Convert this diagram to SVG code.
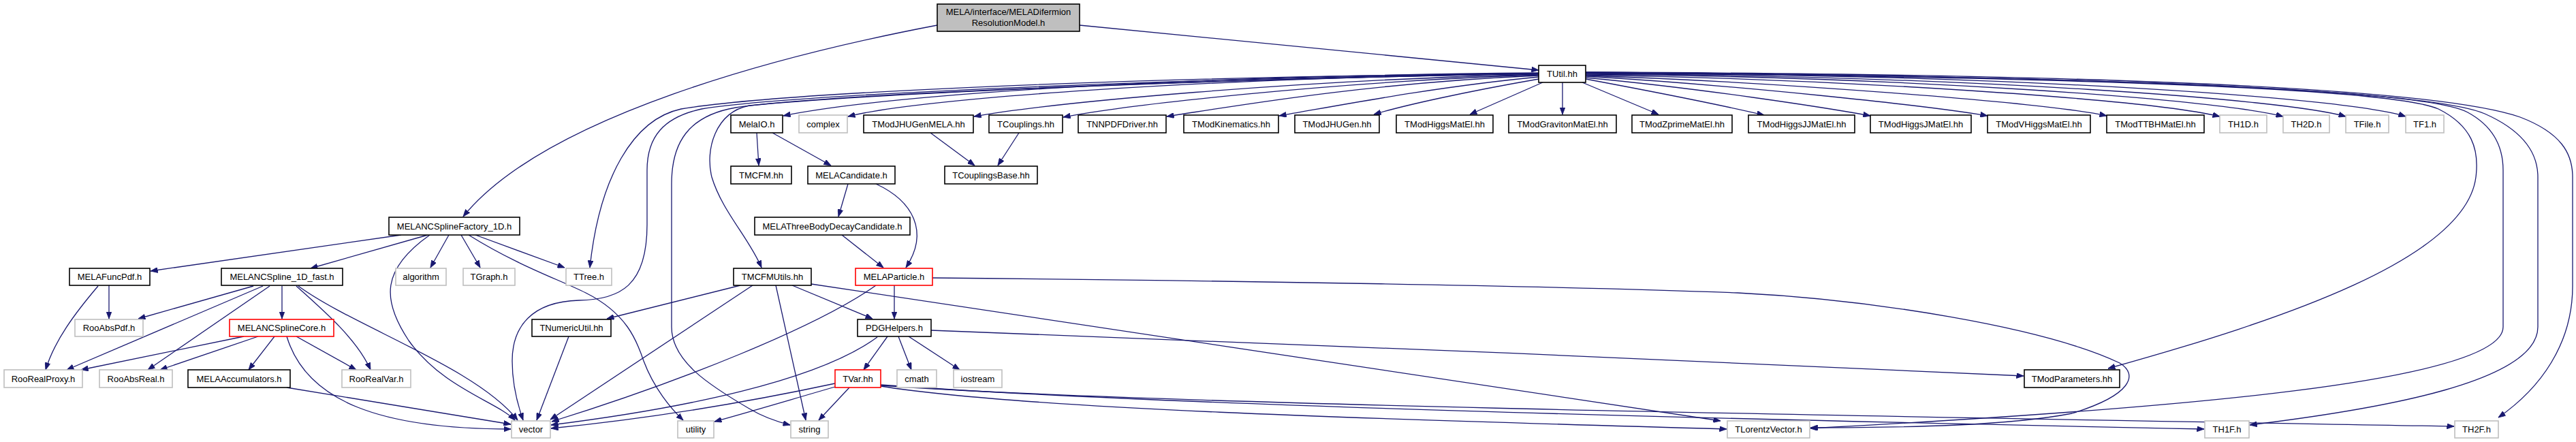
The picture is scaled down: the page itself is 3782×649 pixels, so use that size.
<svg xmlns="http://www.w3.org/2000/svg" width="3782" height="649" viewBox="0 0 3782 649">
<style>
.n rect{fill:#fff;stroke:#000;stroke-width:1.6}
.g rect{fill:#fff;stroke:#bfbfbf;stroke-width:1.6}
.r rect{fill:#fff;stroke:#ff0000;stroke-width:1.6}
.root rect{fill:#bfbfbf;stroke:#000;stroke-width:1.6}
text{font-family:"Liberation Sans",Arial,sans-serif;font-size:13px;fill:#000;text-anchor:middle}
#edges path{fill:none;stroke:#191970;stroke-width:1.3;marker-end:url(#ah)}
</style>
<defs>
<marker id="ah" markerUnits="userSpaceOnUse" markerWidth="11" markerHeight="8" refX="10.5" refY="4" orient="auto">
<path d="M0,0 L10.5,4 L0,8 z" fill="#191970" stroke="#191970" stroke-width="0.8"/>
</marker>
</defs>
<rect width="3782" height="649" fill="#fff"/>
<g id="edges">
<path d="M1376,37 C1150,80 800,170 680,318"/>
<path d="M1585,37 L2259,103"/>
<path d="M2259,107 C1700,112 1300,140 1150,170"/>
<path d="M2259,108 C1750,115 1350,145 1245,171"/>
<path d="M2259,109 C1900,118 1550,150 1430,171"/>
<path d="M2259,110 C1950,120 1650,155 1561,172"/>
<path d="M2259,111 C2000,122 1800,158 1713,171"/>
<path d="M2259,113 C2100,128 1950,158 1878,170"/>
<path d="M2259,116 C2150,135 2060,155 2017,168"/>
<path d="M2265,121 L2158,168"/>
<path d="M2294,121 L2294,168"/>
<path d="M2323,121 L2435,168"/>
<path d="M2328,116 C2430,135 2530,155 2590,169"/>
<path d="M2328,114 C2500,130 2680,158 2746,170"/>
<path d="M2328,112 C2550,125 2830,155 2918,170"/>
<path d="M2328,111 C2600,120 3000,150 3093,170"/>
<path d="M2328,110 C2700,116 3150,145 3259,171"/>
<path d="M2328,109 C2800,113 3250,145 3352,171"/>
<path d="M2328,108 C2900,112 3350,145 3444,171"/>
<path d="M2328,107 C3000,110 3450,145 3532,171"/>
<path d="M2328,106 C2900,108 3550,120 3700,172 C3760,195 3777,225 3777,260 L3777,420 C3777,505 3730,570 3668,613"/>
<path d="M2328,106 C2900,110 3550,125 3648,167 C3700,190 3726,220 3726,260 L3726,480 C3726,560 3500,600 3303,624"/>
<path d="M2328,106 C2900,110 3550,125 3623,165 C3660,185 3675,215 3675,250 L3675,480 C3675,560 3200,600 2658,629"/>
<path d="M2328,107 C2900,112 3500,125 3580,160 C3630,185 3640,220 3635,260 C3620,380 3350,470 3095,541"/>
<path d="M2259,108 C1700,112 1150,135 1000,160 C930,175 880,260 866,393"/>
<path d="M2259,108 C1700,115 1150,140 1030,160 C975,172 950,200 950,250 L950,330 C950,420 910,440 850,441 C780,443 752,480 752,530 C752,570 762,600 768,617"/>
<path d="M2259,108 C1700,118 1200,140 1080,158 C1010,170 986,210 986,270 L986,480 C986,530 1040,565 1100,600 C1120,612 1140,619 1160,624"/>
<path d="M2259,108 C1700,118 1250,140 1100,155 C1050,165 1035,220 1045,260 C1060,310 1100,350 1118,393"/>
<path d="M1111,195 L1114,243"/>
<path d="M1134,195 L1220,243"/>
<path d="M1366,195 L1431,243"/>
<path d="M1496,195 L1465,243"/>
<path d="M1245,270 L1231,318"/>
<path d="M1286,270 C1340,295 1365,340 1330,393"/>
<path d="M1236,345 L1297,393"/>
<path d="M589,345 L221,398"/>
<path d="M628,345 L456,394"/>
<path d="M631,345 C560,395 560,440 600,500 C650,570 730,590 756,617"/>
<path d="M659,345 L632,393"/>
<path d="M677,345 L705,393"/>
<path d="M698,345 L829,393"/>
<path d="M688,345 C760,390 820,410 860,430 C920,460 935,500 945,530 C960,570 985,600 1003,617"/>
<path d="M160,419 L160,468"/>
<path d="M144,420 C110,460 80,500 67,543"/>
<path d="M372,420 L203,468"/>
<path d="M386,420 L98,543"/>
<path d="M396,420 L217,543"/>
<path d="M414,420 L414,468"/>
<path d="M435,420 C480,460 525,500 544,543"/>
<path d="M438,420 C520,480 700,540 760,617"/>
<path d="M358,494 L119,543"/>
<path d="M379,494 L235,543"/>
<path d="M403,494 L365,543"/>
<path d="M421,494 C450,590 560,630 750,630"/>
<path d="M435,494 L523,543"/>
<path d="M421,569 L750,623"/>
<path d="M835,494 L788,617"/>
<path d="M1087,419 L891,468"/>
<path d="M1105,419 L808,616"/>
<path d="M1139,419 L1183,617"/>
<path d="M1163,419 L1281,468"/>
<path d="M1191,417 L2526,618"/>
<path d="M1286,419 C1200,480 1000,560 810,619"/>
<path d="M1313,419 L1313,468"/>
<path d="M1369,408 C1800,412 2300,420 2551,430 C2750,440 3000,480 3112,533 C3140,550 3130,580 3042,607 C2950,625 2800,628 2658,628"/>
<path d="M1303,494 L1268,543"/>
<path d="M1319,494 L1338,543"/>
<path d="M1334,494 L1409,543"/>
<path d="M1288,495 C1200,560 1000,600 809,624"/>
<path d="M1367,485 C1800,500 2500,530 2971,552"/>
<path d="M1226,563 C1100,590 950,615 809,629"/>
<path d="M1226,568 C1150,590 1100,605 1049,619"/>
<path d="M1247,569 L1202,617"/>
<path d="M1293,567 C1500,600 2000,615 2535,630"/>
<path d="M1293,565 C1700,595 2500,615 3236,630"/>
<path d="M1293,566 C1700,595 2800,612 3603,626"/>
</g>
<g id="n_root" class="root"><rect x="1376" y="6" width="209" height="40"/><text x="1480.5" y="22">MELA/interface/MELADifermion</text><text x="1480.5" y="38">ResolutionModel.h</text></g>
<g id="n_TUtil" class="n"><rect x="2259" y="96" width="69" height="25"/><text x="2293.5" y="113">TUtil.hh</text></g>
<g id="n_MelaIO" class="n"><rect x="1073" y="169" width="76" height="26"/><text x="1111" y="186.5">MelaIO.h</text></g>
<g id="n_complex" class="g"><rect x="1173" y="169" width="71" height="26"/><text x="1208.5" y="186.5">complex</text></g>
<g id="n_TModJHUGenMELA" class="n"><rect x="1268" y="169" width="161" height="26"/><text x="1348.5" y="186.5">TModJHUGenMELA.hh</text></g>
<g id="n_TCouplings" class="n"><rect x="1452" y="169" width="108" height="26"/><text x="1506" y="186.5">TCouplings.hh</text></g>
<g id="n_TNNPDFDriver" class="n"><rect x="1583" y="169" width="129" height="26"/><text x="1647.5" y="186.5">TNNPDFDriver.hh</text></g>
<g id="n_TModKinematics" class="n"><rect x="1738" y="169" width="139" height="26"/><text x="1807.5" y="186.5">TModKinematics.hh</text></g>
<g id="n_TModJHUGen" class="n"><rect x="1901" y="169" width="124" height="26"/><text x="1963" y="186.5">TModJHUGen.hh</text></g>
<g id="n_TModHiggsMatEl" class="n"><rect x="2050" y="169" width="142" height="26"/><text x="2121" y="186.5">TModHiggsMatEl.hh</text></g>
<g id="n_TModGravitonMatEl" class="n"><rect x="2215" y="169" width="158" height="26"/><text x="2294" y="186.5">TModGravitonMatEl.hh</text></g>
<g id="n_TModZprimeMatEl" class="n"><rect x="2396" y="169" width="147" height="26"/><text x="2469.5" y="186.5">TModZprimeMatEl.hh</text></g>
<g id="n_TModHiggsJJMatEl" class="n"><rect x="2567" y="169" width="156" height="26"/><text x="2645" y="186.5">TModHiggsJJMatEl.hh</text></g>
<g id="n_TModHiggsJMatEl" class="n"><rect x="2746" y="169" width="148" height="26"/><text x="2820" y="186.5">TModHiggsJMatEl.hh</text></g>
<g id="n_TModVHiggsMatEl" class="n"><rect x="2918" y="169" width="151" height="26"/><text x="2993.5" y="186.5">TModVHiggsMatEl.hh</text></g>
<g id="n_TModTTBHMatEl" class="n"><rect x="3093" y="169" width="143" height="26"/><text x="3164.5" y="186.5">TModTTBHMatEl.hh</text></g>
<g id="n_TH1D" class="g"><rect x="3259" y="169" width="69" height="26"/><text x="3293.5" y="186.5">TH1D.h</text></g>
<g id="n_TH2D" class="g"><rect x="3352" y="169" width="68" height="26"/><text x="3386" y="186.5">TH2D.h</text></g>
<g id="n_TFile" class="g"><rect x="3444" y="169" width="63" height="26"/><text x="3475.5" y="186.5">TFile.h</text></g>
<g id="n_TF1" class="g"><rect x="3532" y="169" width="56" height="26"/><text x="3560" y="186.5">TF1.h</text></g>
<g id="n_TMCFM" class="n"><rect x="1073" y="244" width="89" height="26"/><text x="1117.5" y="261.5">TMCFM.hh</text></g>
<g id="n_MELACandidate" class="n"><rect x="1186" y="244" width="128" height="26"/><text x="1250" y="261.5">MELACandidate.h</text></g>
<g id="n_TCouplingsBase" class="n"><rect x="1387" y="244" width="136" height="26"/><text x="1455" y="261.5">TCouplingsBase.hh</text></g>
<g id="n_MELANCSplineFactory_1D" class="n"><rect x="571" y="319" width="192" height="26"/><text x="667" y="336.5">MELANCSplineFactory_1D.h</text></g>
<g id="n_MELAThreeBodyDecayCandidate" class="n"><rect x="1108" y="319" width="228" height="26"/><text x="1222" y="336.5">MELAThreeBodyDecayCandidate.h</text></g>
<g id="n_MELAFuncPdf" class="n"><rect x="102" y="394" width="118" height="25"/><text x="161" y="411">MELAFuncPdf.h</text></g>
<g id="n_MELANCSpline_1D_fast" class="n"><rect x="325" y="394" width="178" height="25"/><text x="414" y="411">MELANCSpline_1D_fast.h</text></g>
<g id="n_algorithm" class="g"><rect x="581" y="394" width="74" height="25"/><text x="618" y="411">algorithm</text></g>
<g id="n_TGraph" class="g"><rect x="680" y="394" width="76" height="25"/><text x="718" y="411">TGraph.h</text></g>
<g id="n_TTree" class="g"><rect x="831" y="394" width="67" height="25"/><text x="864.5" y="411">TTree.h</text></g>
<g id="n_TMCFMUtils" class="n"><rect x="1077" y="394" width="114" height="25"/><text x="1134" y="411">TMCFMUtils.hh</text></g>
<g id="n_MELAParticle" class="r"><rect x="1256" y="394" width="113" height="25"/><text x="1312.5" y="411">MELAParticle.h</text></g>
<g id="n_RooAbsPdf" class="g"><rect x="110" y="469" width="100" height="25"/><text x="160" y="486">RooAbsPdf.h</text></g>
<g id="n_MELANCSplineCore" class="r"><rect x="337" y="469" width="153" height="25"/><text x="413.5" y="486">MELANCSplineCore.h</text></g>
<g id="n_TNumericUtil" class="n"><rect x="781" y="469" width="116" height="25"/><text x="839" y="486">TNumericUtil.hh</text></g>
<g id="n_PDGHelpers" class="n"><rect x="1259" y="469" width="108" height="25"/><text x="1313" y="486">PDGHelpers.h</text></g>
<g id="n_RooRealProxy" class="g"><rect x="6" y="543" width="115" height="26"/><text x="63.5" y="560.5">RooRealProxy.h</text></g>
<g id="n_RooAbsReal" class="g"><rect x="146" y="543" width="107" height="26"/><text x="199.5" y="560.5">RooAbsReal.h</text></g>
<g id="n_MELAAccumulators" class="n"><rect x="276" y="543" width="150" height="26"/><text x="351" y="560.5">MELAAccumulators.h</text></g>
<g id="n_RooRealVar" class="g"><rect x="502" y="543" width="101" height="26"/><text x="552.5" y="560.5">RooRealVar.h</text></g>
<g id="n_TVar" class="r"><rect x="1226" y="543" width="67" height="26"/><text x="1259.5" y="560.5">TVar.hh</text></g>
<g id="n_cmath" class="g"><rect x="1317" y="543" width="58" height="26"/><text x="1346" y="560.5">cmath</text></g>
<g id="n_iostream" class="g"><rect x="1400" y="543" width="71" height="26"/><text x="1435.5" y="560.5">iostream</text></g>
<g id="n_TModParameters" class="n"><rect x="2972" y="543" width="140" height="26"/><text x="3042" y="560.5">TModParameters.hh</text></g>
<g id="n_vector" class="g"><rect x="751" y="618" width="57" height="25"/><text x="779.5" y="635">vector</text></g>
<g id="n_utility" class="g"><rect x="995" y="618" width="53" height="25"/><text x="1021.5" y="635">utility</text></g>
<g id="n_string" class="g"><rect x="1161" y="618" width="55" height="25"/><text x="1188.5" y="635">string</text></g>
<g id="n_TLorentzVector" class="g"><rect x="2536" y="618" width="121" height="25"/><text x="2596.5" y="635">TLorentzVector.h</text></g>
<g id="n_TH1F" class="g"><rect x="3237" y="618" width="65" height="25"/><text x="3269.5" y="635">TH1F.h</text></g>
<g id="n_TH2F" class="g"><rect x="3604" y="618" width="64" height="25"/><text x="3636" y="635">TH2F.h</text></g>
</svg>
